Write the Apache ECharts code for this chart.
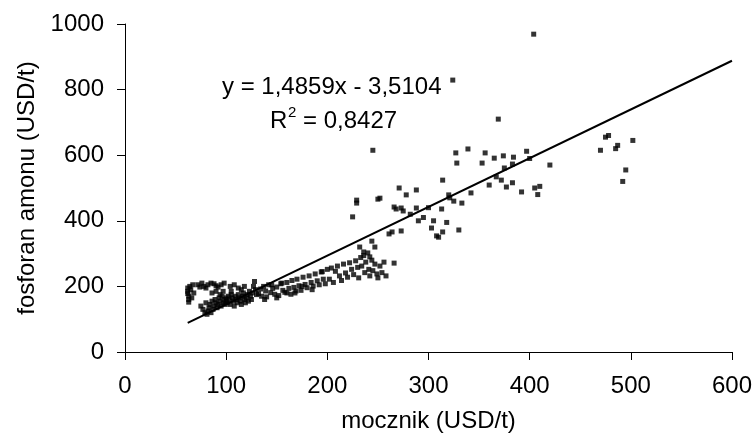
<!DOCTYPE html>
<html>
<head>
<meta charset="utf-8">
<script src="https://cdn.jsdelivr.net/npm/echarts@6/dist/echarts.min.js"></script>
<style>
  html, body { margin: 0; padding: 0; background: #fff; }
  #chart { width: 755px; height: 440px; }
</style>
</head>
<body>
<div id="chart"></div>
<script>
// Monthly prices: urea (x) vs ammonium phosphate (y), USD/t
const mocznik = [
  62,62,62,63,63,63,64,65,66,67,68,
  72,74,76,78,80,82,85,88,90,92,95,98,
  75,77,79,80,81,82,83,84,85,86,87,88,89,90,91,92,93,94,95,96,97,98,99,100,100,
  86,90,94,97,
  101,102,103,104,105,106,107,108,109,110,111,112,113,114,115,116,117,118,119,120,121,122,123,124,125,126,127,128,129,130,104,108,112,118,105,115,
  132,134,135,137,139,140,142,144,146,148,150,152,154,156,158,160,162,164,165,167,169,170,172,174,176,178,180,182,184,186,188,190,192,194,196,198,200,145,155,160,175,185,195,138,150,168,
  202,204,206,208,210,212,214,216,218,220,222,224,226,228,230,231,233,234,236,237,238,240,241,242,244,245,247,249,250,252,254,256,258,232,247,244,225,229,229,245,250,252,236,242,
  261,264,266,273,266,268,275,271,278,288,288,273,282,290,295,300,303,305,308,310,313,314,314,318,320,321,324,325,327,328,330,333,
  339,342,353,356,360,365,367,369,372,374,375,377,383,383,384,392,397,400,404,405,408,410,420,
  470,475,478,485,487,492,495,502
];
const fosforan = [
  195,185,178,170,160,152,200,190,165,205,180,
  205,198,210,200,195,205,210,208,202,198,205,210,
  140,130,120,150,115,125,135,145,120,155,130,140,160,150,135,145,165,155,140,170,150,160,145,165,155,
  180,185,175,185,
  150,170,160,145,175,165,155,140,170,160,150,175,165,155,145,170,180,160,150,165,175,155,185,170,160,180,200,215,190,175,200,205,195,200,185,190,
  178,192,170,200,186,168,205,181,194,176,198,172,208,188,182,212,194,176,218,197,186,222,202,188,228,206,196,232,212,201,238,217,205,244,222,208,252,205,210,180,200,190,245,160,165,180,
  222,256,212,246,262,232,218,268,241,228,272,252,236,278,258,226,288,262,294,242,274,302,252,232,280,248,268,238,226,262,242,274,232,320,320,338,412,454,463,615,466,469,305,290,
  360,366,271,369,442,436,430,500,479,494,439,439,420,400,410,440,378,400,354,350,436,366,524,395,479,470,829,460,607,576,372,454,
  619,485,576,607,509,591,534,710,524,598,561,503,516,573,594,488,612,590,969,500,480,505,570,
  615,655,660,620,630,520,555,645
];

// Linear trend reported for the series
const slope = 1.4859;
const intercept = -3.5104;
const trendX = [62, 600];

const xTicks = [0, 100, 200, 300, 400, 500, 600];
const yTicks = [0, 200, 400, 600, 800, 1000];

const points = mocznik.map((x, i) => [x, fosforan[i]]);
const trend = trendX.map(x => [x, slope * x + intercept]);

const font = '"Liberation Sans", Arial, sans-serif';
const fs = 24;
const chart = echarts.init(document.getElementById('chart'), null, { renderer: 'canvas' });

chart.setOption({
  animation: false,
  backgroundColor: '#ffffff',
  grid: { left: 125, right: 22, top: 24, bottom: 88 },
  xAxis: {
    type: 'value',
    min: xTicks[0], max: xTicks[xTicks.length - 1], interval: 100,
    name: 'mocznik (USD/t)',
    nameLocation: 'middle', nameGap: 57,
    nameTextStyle: { fontFamily: font, fontSize: fs, color: '#000' },
    axisLine: { show: true, lineStyle: { color: '#000', width: 1 } },
    axisTick: { show: true, inside: false, length: 8, lineStyle: { color: '#000' } },
    axisLabel: { fontFamily: font, fontSize: fs, color: '#000', margin: 22, formatter: v => String(v) },
    splitLine: { show: false }
  },
  yAxis: {
    type: 'value',
    min: yTicks[0], max: yTicks[yTicks.length - 1], interval: 200,
    name: 'fosforan amonu (USD/t)',
    nameLocation: 'middle', nameGap: 86, nameRotate: 90,
    nameTextStyle: { fontFamily: font, fontSize: fs, color: '#000' },
    axisLine: { show: true, lineStyle: { color: '#000', width: 1 } },
    axisTick: { show: true, inside: false, length: 8, lineStyle: { color: '#000' } },
    axisLabel: { fontFamily: font, fontSize: fs, color: '#000', margin: 21, formatter: v => String(v) },
    splitLine: { show: false }
  },
  series: [
    {
      type: 'scatter',
      data: points,
      symbol: 'rect',
      symbolSize: 5,
      itemStyle: { color: '#000' },
      z: 3
    },
    {
      type: 'line',
      data: trend,
      symbol: 'none',
      lineStyle: { color: '#000', width: 2 },
      z: 4
    }
  ],
  graphic: [
    {
      type: 'text', x: 222, y: 87,
      style: { text: 'y = 1,4859x - 3,5104', font: fs + 'px ' + font, fill: '#000', verticalAlign: 'middle' }
    },
    {
      type: 'text', x: 270, y: 121,
      style: { text: 'R', font: fs + 'px ' + font, fill: '#000', verticalAlign: 'middle' }
    },
    {
      type: 'text', x: 288, y: 113,
      style: { text: '2', font: '15px ' + font, fill: '#000', verticalAlign: 'middle' }
    },
    {
      type: 'text', x: 303, y: 121,
      style: { text: '= 0,8427', font: fs + 'px ' + font, fill: '#000', verticalAlign: 'middle' }
    }
  ]
});
</script>
</body>
</html>
